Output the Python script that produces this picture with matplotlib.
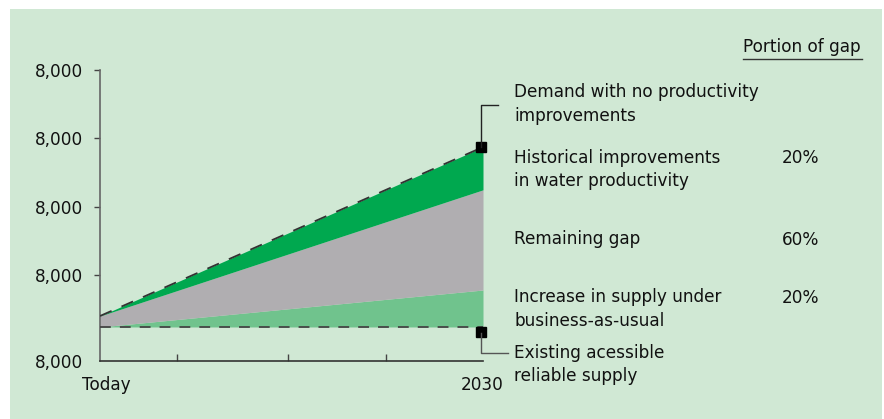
import matplotlib
matplotlib.use("Agg")
import matplotlib.pyplot as plt
from matplotlib.patches import Rectangle
from matplotlib.lines import Line2D

# ---- data ----
x_labels = ["Today", "2030"]
x_pos = [0.0, 1.0]
existing_supply = [0.497, 0.497]
supply_increase_top = [0.497, 1.037]
after_historical = [0.657, 2.50]
demand_no_improve = [0.657, 3.125]
y_ticks = [0, 1.25, 2.25, 3.25, 4.25]
y_tick_labels = ["8,000"] * 5
minor_x_ticks = [0.201, 0.491, 0.747]

labels = ["Demand with no productivity\nimprovements",
          "Historical improvements\nin water productivity",
          "Remaining gap",
          "Increase in supply under\nbusiness-as-usual",
          "Existing acessible\nreliable supply"]
portions = ["", "20%", "60%", "20%", ""]

W, H = 884, 419
BG = "#d0e8d4"
DARK_GREEN = "#00a84f"
GRAY = "#b0aeb1"
LIGHT_GREEN = "#70c38d"
FS = 12.2
plt.rcParams['font.family'] = ['DejaVu Sans']

fig = plt.figure(figsize=(W / 100, H / 100), dpi=100)
fig.patch.set_facecolor("white")
fig.patches.append(Rectangle((10 / W, 0), 872 / W, (H - 9) / H,
                             transform=fig.transFigure, facecolor=BG,
                             edgecolor="none", zorder=-10))

def fx(px):
    return px / W

def fy(py):
    return 1 - py / H

ax = fig.add_axes([fx(100), fy(361), 383 / W, 291 / H])
ax.set_zorder(1)
ax.set_facecolor("none")
ax.fill_between(x_pos, existing_supply, supply_increase_top, color=LIGHT_GREEN, lw=0)
ax.fill_between(x_pos, supply_increase_top, after_historical, color=GRAY, lw=0)
ax.fill_between(x_pos, after_historical, demand_no_improve, color=DARK_GREEN, lw=0)
ax.plot(x_pos, demand_no_improve, color="#333333", lw=1.3,
        linestyle=(0, (7, 6)), zorder=3)
ax.plot(x_pos, existing_supply, color="#444444", lw=1.3,
        linestyle=(0, (6, 5)), zorder=3)

ax.set_xlim(0, 1)
ax.set_ylim(0, 4.25)
for s in ["top", "right"]:
    ax.spines[s].set_visible(False)
ax.spines["left"].set_color("#666666")
ax.spines["bottom"].set_color("#333333")
ax.spines["left"].set_linewidth(1.2)
ax.spines["bottom"].set_linewidth(1.2)
ax.set_yticks(y_ticks)
ax.set_yticklabels(y_tick_labels, fontsize=FS, color="#111111")
ax.tick_params(axis="y", direction="out", length=4, width=1, color="#444444", pad=8)
ax.yaxis.get_major_ticks()[0].tick1line.set_visible(False)
ax.set_xticks(minor_x_ticks)
ax.set_xticklabels([])
ax.tick_params(axis="x", direction="in", length=5, width=1, color="#444444")

# markers at 2030
ax.plot([0.995], [demand_no_improve[1]], marker="s", ms=7, color="black",
        clip_on=False, zorder=5)
ax.plot([0.995], [existing_supply[1] - 0.075], marker="s", ms=7, color="black",
        clip_on=False, zorder=5)

# leader lines (pixel coords)
fig.add_artist(Line2D([fx(481), fx(481), fx(498)], [fy(147), fy(105), fy(105)],
                      color="#222222", lw=1, transform=fig.transFigure))
fig.add_artist(Line2D([fx(481), fx(481), fx(508)], [fy(333), fy(353), fy(353)],
                      color="#555555", lw=1, transform=fig.transFigure))

# x labels
fig.text(fx(106), fy(385), x_labels[0], ha="center", va="center", fontsize=FS, color="#111111")
fig.text(fx(482), fy(385), x_labels[1], ha="center", va="center", fontsize=FS, color="#111111")

# right labels
label_y = [104, 169.5, 239, 309, 364.5]
for lab, yy in zip(labels, label_y):
    fig.text(fx(514), fy(yy), lab, ha="left", va="center", fontsize=FS,
             color="#111111", linespacing=1.4)
pct_y = [None, 158, 240, 298, None]
for p, yy in zip(portions, pct_y):
    if p:
        fig.text(fx(819), fy(yy), p, ha="right", va="center", fontsize=FS, color="#111111")

fig.text(fx(802), fy(47), "Portion of gap", ha="center", va="center", fontsize=FS, color="#111111")
fig.add_artist(Line2D([fx(743), fx(862)], [fy(59), fy(59)], color="#333333", lw=1,
                      transform=fig.transFigure))

fig.savefig("out.png", dpi=100, facecolor=fig.get_facecolor())
